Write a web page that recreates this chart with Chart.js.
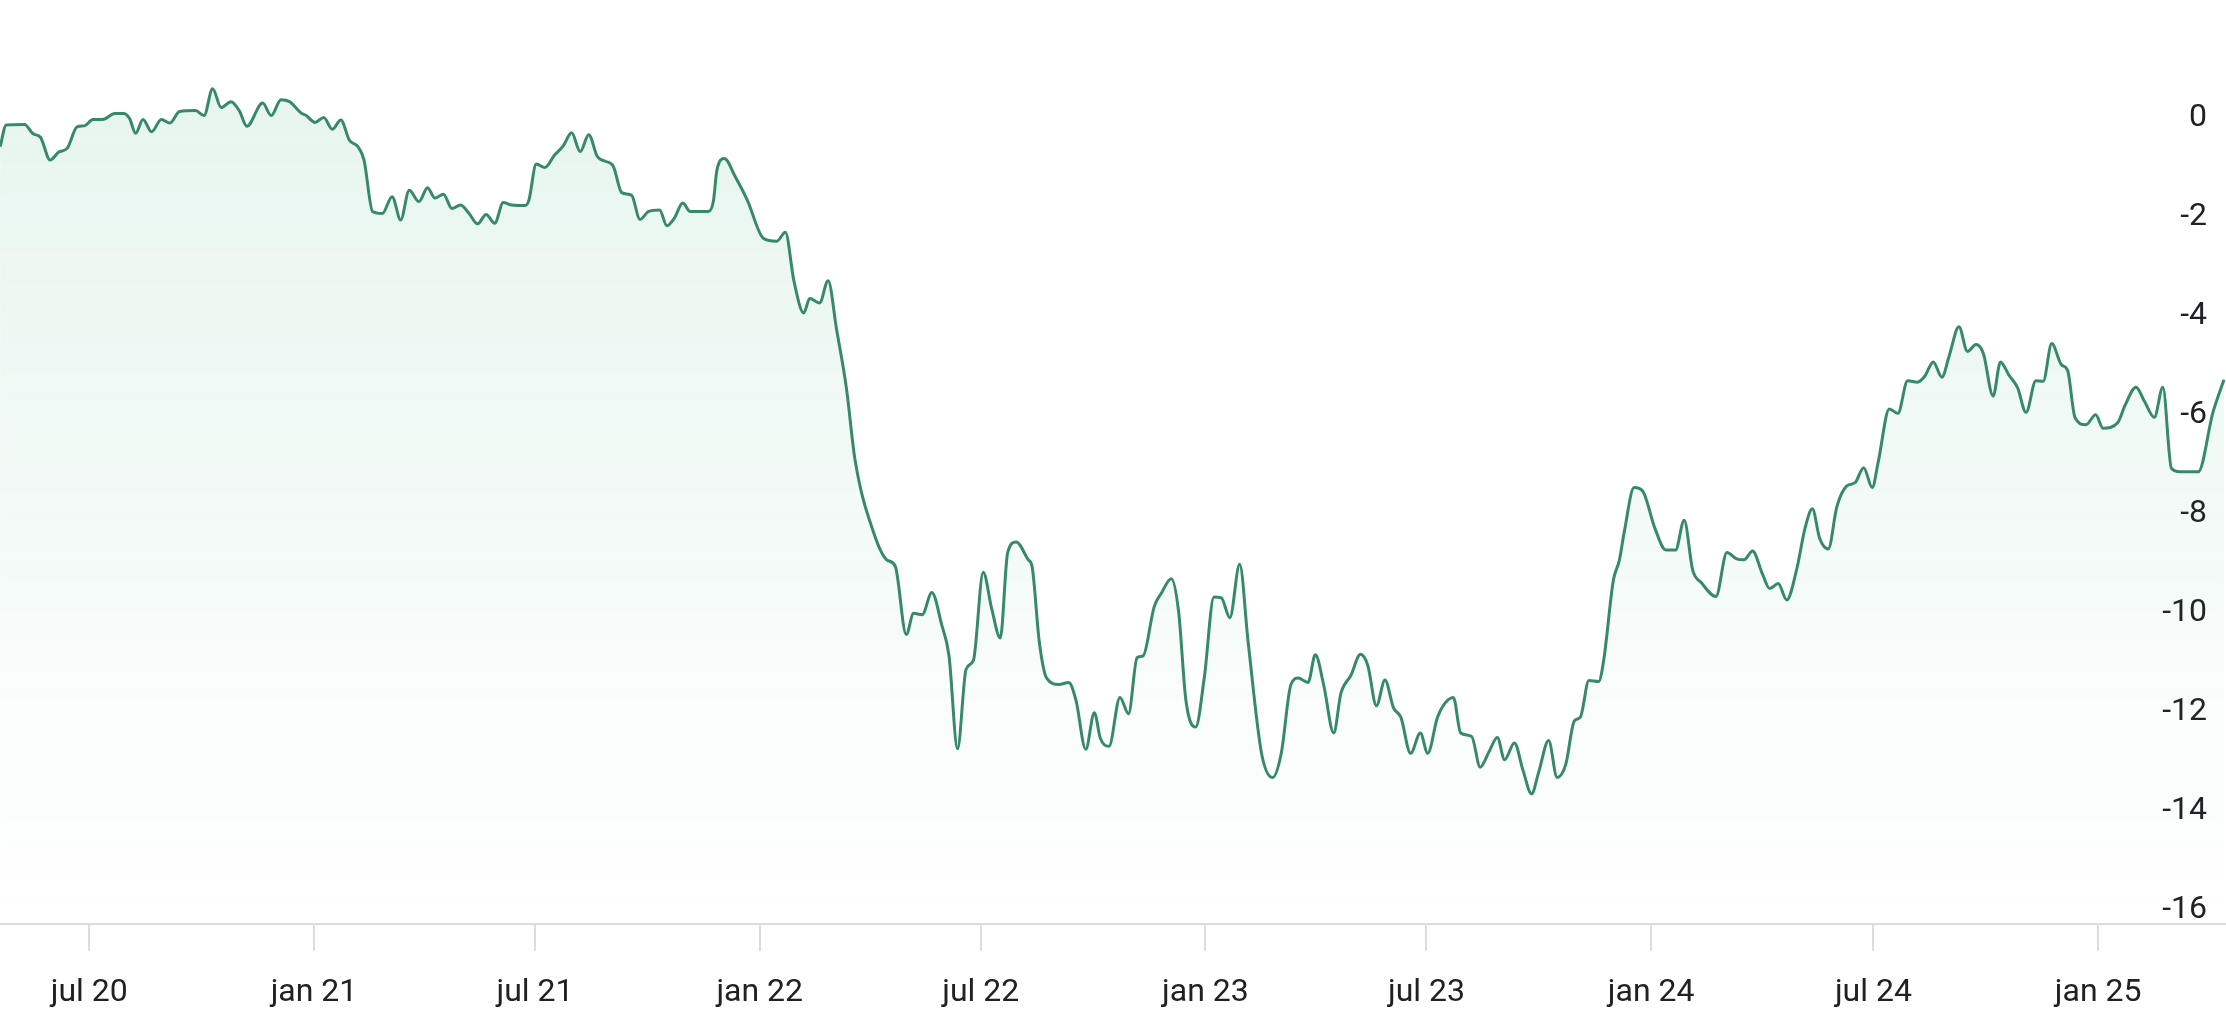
<!DOCTYPE html>
<html>
<head>
<meta charset="utf-8">
<script src="https://cdn.jsdelivr.net/npm/chart.js@4"></script>
<style>
  html, body { margin: 0; padding: 0; background: #fff; }
  #wrap { width: 2226px; height: 1024px; position: relative; }
</style>
</head>
<body>
<div id="wrap"><canvas id="chart"></canvas></div>
<script>
// day offsets from 2020-01-01 and the series value at that day
const days = [
  109, 114, 129, 136, 142, 150, 157, 164, 172, 178,
  185, 193, 203, 210, 215, 220, 226, 233, 241, 248,
  256, 269, 276, 283, 290, 298, 305, 311, 324, 331,
  339, 346, 356, 359, 367, 374, 381, 388, 395, 402,
  407, 414, 422, 430, 437, 444, 452, 459, 465, 472,
  479, 486, 493, 500, 507, 514, 521, 528, 539, 542,
  548, 555, 563, 570, 577, 584, 591, 598, 604, 611,
  618, 626, 633, 640, 649, 655, 661, 668, 674, 689,
  693, 696, 702, 711, 721, 734, 745, 752, 759, 767,
  772, 780, 787, 794, 802, 809, 825, 835, 842, 851,
  857, 864, 872, 880, 886, 893, 900, 906, 914, 921,
  928, 934, 941, 951, 954, 960, 966, 976, 984, 990,
  998, 1005, 1010, 1017, 1026, 1033, 1040, 1045, 1054, 1060,
  1068, 1074, 1080, 1088, 1095, 1103, 1109, 1116, 1124, 1131,
  1142, 1151, 1158, 1166, 1172, 1180, 1186, 1193, 1201, 1207,
  1215, 1223, 1229, 1236, 1243, 1250, 1256, 1264, 1272, 1278,
  1286, 1292, 1299, 1305, 1314, 1321, 1328, 1335, 1341, 1349,
  1356, 1363, 1369, 1377, 1384, 1391, 1398, 1403, 1410, 1418,
  1422, 1430, 1435, 1439, 1447, 1454, 1464, 1473, 1481, 1488,
  1495, 1502, 1514, 1523, 1531, 1537, 1544, 1552, 1558, 1565,
  1572, 1580, 1587, 1593, 1599, 1606, 1613, 1621, 1628, 1635,
  1642, 1647, 1656, 1663, 1671, 1679, 1685, 1692, 1699, 1705,
  1713, 1720, 1727, 1733, 1741, 1747, 1754, 1761, 1768, 1776,
  1782, 1789, 1797, 1802, 1808, 1817, 1825, 1831, 1843, 1849,
  1858, 1865, 1873, 1880, 1887, 1894, 1909, 1921, 1930
];

const values = [
  -0.64, -0.20, -0.19, -0.38, -0.45, -0.91, -0.75, -0.67, -0.24, -0.22,
  -0.09, -0.09, 0.03, 0.03, -0.07, -0.37, -0.09, -0.34, -0.09, -0.16,
  0.07, 0.09, -0.01, 0.53, 0.15, 0.27, 0.08, -0.23, 0.24, -0.01,
  0.31, 0.27, 0.03, 0.00, -0.15, -0.05, -0.29, -0.10, -0.51, -0.64,
  -0.91, -1.95, -1.99, -1.65, -2.12, -1.52, -1.75, -1.47, -1.68, -1.60,
  -1.89, -1.82, -1.99, -2.20, -2.01, -2.19, -1.77, -1.82, -1.83, -1.72,
  -0.99, -1.06, -0.81, -0.63, -0.36, -0.74, -0.40, -0.84, -0.93, -1.03,
  -1.57, -1.62, -2.11, -1.95, -1.92, -2.24, -2.09, -1.78, -1.95, -1.95,
  -1.75, -1.11, -0.88, -1.25, -1.73, -2.49, -2.55, -2.37, -3.35, -4.00,
  -3.71, -3.80, -3.35, -4.34, -5.52, -6.96, -8.49, -8.99, -9.12, -10.50,
  -10.07, -10.10, -9.65, -10.30, -10.93, -12.81, -11.20, -11.02, -9.24, -9.98,
  -10.57, -8.85, -8.63, -8.99, -9.12, -10.66, -11.38, -11.51, -11.47, -11.83,
  -12.82, -12.08, -12.60, -12.76, -11.77, -12.10, -10.97, -10.93, -9.94, -9.66,
  -9.37, -10.03, -11.83, -12.37, -11.38, -9.74, -9.76, -10.16, -9.08, -10.66,
  -12.91, -13.39, -12.91, -11.51, -11.38, -11.47, -10.91, -11.54, -12.49, -11.68,
  -11.33, -10.90, -11.13, -11.94, -11.42, -11.98, -12.17, -12.90, -12.49, -12.90,
  -12.17, -11.89, -11.77, -12.49, -12.56, -13.18, -12.88, -12.58, -13.03, -12.69,
  -13.24, -13.72, -13.27, -12.64, -13.39, -13.13, -12.25, -12.17, -11.43, -11.45,
  -11.04, -9.41, -8.99, -8.42, -7.53, -7.60, -8.35, -8.79, -8.79, -8.19,
  -9.20, -9.45, -9.73, -8.84, -8.97, -8.99, -8.81, -9.27, -9.57, -9.47,
  -9.80, -9.20, -8.35, -7.96, -8.56, -8.77, -7.92, -7.50, -7.43, -7.13,
  -7.53, -7.00, -5.94, -6.03, -5.37, -5.40, -5.28, -4.99, -5.30, -4.87,
  -4.28, -4.78, -4.64, -4.82, -5.68, -4.99, -5.26, -5.51, -6.01, -5.37,
  -5.38, -4.62, -5.05, -5.16, -6.11, -6.26, -6.06, -6.33, -6.22, -5.87,
  -5.50, -5.79, -6.11, -5.50, -7.14, -7.21, -7.21, -6.01, -5.35
];

const tickDates = ["2020-07-01", "2021-01-01", "2021-07-01", "2022-01-01", "2022-07-01",
  "2023-01-01", "2023-07-01", "2024-01-01", "2024-07-01", "2025-01-01"];
const tickLabels = ["jul 20", "jan 21", "jul 21", "jan 22", "jul 22",
  "jan 23", "jul 23", "jan 24", "jul 24", "jan 25"];
const yTicks = [0, -2, -4, -6, -8, -10, -12, -14, -16];

const dayZero = Date.UTC(2020, 0, 1);
const toDay = (s) => (Date.parse(s + "T00:00:00Z") - dayZero) / 864e5;
const tickDays = tickDates.map(toDay);

const points = days.map((d, i) => ({ x: d, y: values[i] }));

const lineColor = "#378a68";
const textColor = "#202124";
const axisGrey = "#dadce0";

new Chart(document.getElementById("chart"), {
  type: "line",
  data: {
    datasets: [{
      data: points,
      borderColor: lineColor,
      borderWidth: 3,
      pointRadius: 0,
      cubicInterpolationMode: "monotone",
      fill: "start",
      backgroundColor: (ctx) => {
        const area = ctx.chart.chartArea;
        if (!area) return "rgba(38,166,106,0.08)";
        const g = ctx.chart.ctx.createLinearGradient(0, area.top, 0, area.bottom);
        g.addColorStop(0, "rgba(38,166,106,0.12)");
        g.addColorStop(1, "rgba(38,166,106,0.0)");
        return g;
      },
    }],
  },
  options: {
    responsive: true,
    maintainAspectRatio: false,
    animation: false,
    devicePixelRatio: 1,
    layout: { padding: 0 },
    plugins: {
      legend: { display: false },
      tooltip: { enabled: false },
    },
    scales: {
      x: {
        type: "linear",
        min: 108.9,
        max: 1931.7,
        afterBuildTicks: (axis) => {
          axis.ticks = tickDays.map((v) => ({ value: v }));
        },
        afterFit: (axis) => {
          axis.height = 100;
          axis.paddingLeft = 0;
          axis.paddingRight = 0;
        },
        ticks: {
          autoSkip: false,
          maxRotation: 0,
          padding: 23,
          color: textColor,
          font: { family: "Roboto", size: 32 },
          callback: (v, i) => tickLabels[i],
        },
        grid: {
          drawOnChartArea: false,
          drawTicks: true,
          tickLength: 27,
          color: axisGrey,
          lineWidth: 2,
        },
        border: { display: true, color: axisGrey, width: 2 },
      },
      y: {
        type: "linear",
        position: "right",
        min: -16.35,
        max: 2.324,
        afterBuildTicks: (axis) => {
          axis.ticks = yTicks.map((v) => ({ value: v }));
        },
        afterFit: (axis) => {
          axis.width = 0;
          axis.paddingTop = 0;
          axis.paddingBottom = 0;
        },
        ticks: {
          mirror: true,
          padding: -19,
          labelOffset: 3,
          crossAlign: "near",
          color: textColor,
          font: { family: "Roboto", size: 32 },
        },
        grid: { display: false, drawTicks: false },
        border: { display: false },
      },
    },
  },
});
</script>
</body>
</html>
